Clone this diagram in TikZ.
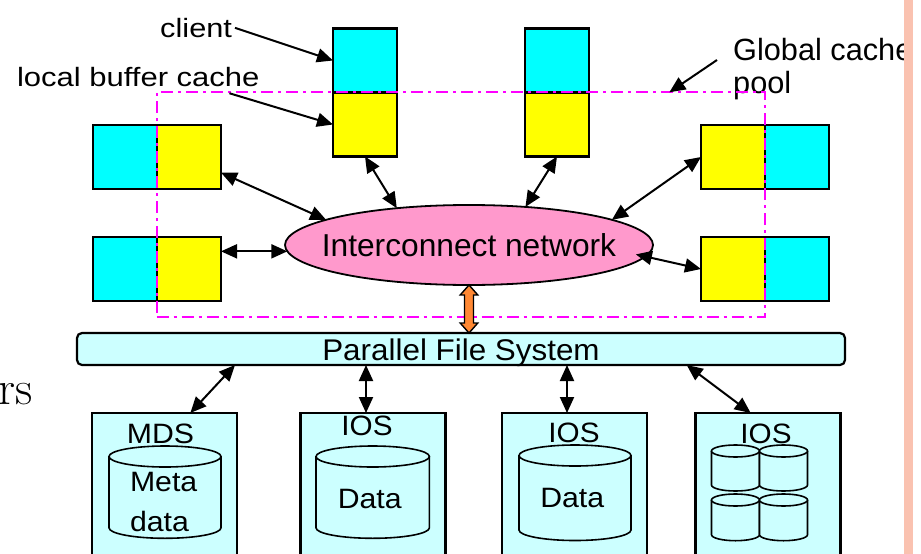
\documentclass[tikz,border=0pt]{standalone}
\usepackage{fontspec}
\usepackage{graphicx}
\newfontfamily\arial{Liberation Sans}
\usetikzlibrary{arrows.meta,shapes.geometric,calc}
\definecolor{cya}{RGB}{0,255,255}
\definecolor{yel}{RGB}{255,255,0}
\definecolor{lcy}{RGB}{204,255,255}
\definecolor{pnk}{RGB}{255,153,204}
\definecolor{org}{RGB}{255,136,51}
\definecolor{mag}{RGB}{255,0,255}
\definecolor{stripc}{RGB}{250,194,176}
\newcommand\sx[2]{\scalebox{#1}[1]{#2}}
\newcommand\dbcyl[5]{%
  \filldraw[cylst] ({#1-#4},#2) -- ({#1-#4},#3)
    .. controls ({#1-#4},{#3+0.5523*#5}) and ({#1-0.5523*#4},{#3+#5}) .. (#1,{#3+#5})
    .. controls ({#1+0.5523*#4},{#3+#5}) and ({#1+#4},{#3+0.5523*#5}) .. ({#1+#4},#3)
    -- ({#1+#4},#2);
  \filldraw[cylst] (#1,#2) ellipse [x radius=#4, y radius=#5];}
\begin{document}
\begin{tikzpicture}[x=1pt,y=-1pt,
  cbox/.style={draw=black, line width=2.2pt, inner sep=0, outer sep=0, minimum width=64pt, minimum height=64pt},
  cyb/.style={cbox, fill=cya},
  ylb/.style={cbox, fill=yel},
  srvbox/.style={draw=black, line width=2.2pt, fill=lcy, inner sep=0, outer sep=0, anchor=north, minimum width=145pt, minimum height=170pt},
  cylst/.style={draw=black, line width=1.6pt, fill=lcy},
  tip/.tip={Triangle[length=16pt,width=14pt]},
  dblarr/.style={line width=2pt, tip-tip},
  onearr/.style={line width=2pt, -tip},
  txt/.style={inner sep=0, outer sep=0, font=\arial\fontsize{28}{33}\selectfont},
  toptxt/.style={inner sep=0, outer sep=0, font=\arial\fontsize{26.5}{30}\selectfont},
]
\useasboundingbox (0,0) rectangle (921,554);
\clip (0,0) rectangle (921,554);

% left slide remnant
\node[inner sep=0, anchor=base west, font=\fontsize{48}{52}\selectfont] (rs) at (-2,404) {rs};

% client boxes
\node[cyb] (c1) at (365,60.5) {};
\node[ylb] (y1) at (365,124.5) {};
\node[cyb] (c2) at (557,60.5) {};
\node[ylb] (y2) at (557,124.5) {};
\node[cyb] (luc) at (125,157) {};
\node[ylb] (luy) at (189,157) {};
\node[cyb] (llc) at (125,269) {};
\node[ylb] (lly) at (189,269) {};
\node[ylb] (ruy) at (733,157) {};
\node[cyb] (ruc) at (797,157) {};
\node[ylb] (rly) at (733,269) {};
\node[cyb] (rlc) at (797,269) {};

% interconnect
\node[ellipse, draw=black, line width=1.8pt, fill=pnk, minimum width=368pt, minimum height=80pt, inner sep=0, outer sep=0] (net) at (469,245) {};
\node[inner sep=0, anchor=base, font=\arial\fontsize{31.7}{36}\selectfont] (nettxt) at (469,256.7) {Interconnect network};

% parallel file system
\node[draw=black, line width=2.2pt, rounded corners=5pt, fill=lcy, minimum width=768pt, minimum height=32pt, inner sep=0, outer sep=0] (pfs) at (461,349) {};
\node[inner sep=0, anchor=base, font=\arial\fontsize{29.9}{34}\selectfont] (pfstxt) at (461,360.7) {\sx{1.05}{Parallel File System}};

% server boxes
\node[srvbox] (mds) at (164.8,413) {};
\node[srvbox] (ios2) at (373,413) {};
\node[srvbox] (ios3) at (574.7,413) {};
\node[srvbox] (ios4) at (768,413) {};

\dbcyl{165}{456.5}{527.8}{56}{10.5}
\dbcyl{372.7}{456.5}{527.8}{56.7}{10.5}
\dbcyl{575}{455.5}{530}{56}{10.5}
\dbcyl{735.5}{451}{485}{24}{6}
\dbcyl{783.5}{451}{485}{24}{6}
\dbcyl{735.5}{500}{534.7}{24}{6}
\dbcyl{783.5}{500}{534.7}{24}{6}

\node[txt, anchor=base] (mdst) at (160.5,443) {\sx{1.08}{MDS}};
\node[txt, anchor=base west] (metat) at (130,491.7) {\sx{1.08}{Meta}};
\node[txt, anchor=base west] (datat) at (130,531) {\sx{1.08}{data}};
\node[txt, anchor=base] (ios2t) at (367,435) {\sx{1.06}{IOS}};
\node[txt, anchor=base] (data2t) at (369.7,508) {\sx{1.08}{Data}};
\node[txt, anchor=base] (ios3t) at (574,442.7) {\sx{1.06}{IOS}};
\node[txt, anchor=base] (data3t) at (572.2,507.7) {\sx{1.08}{Data}};
\node[txt, anchor=base] (ios4t) at (766,443) {\sx{1.06}{IOS}};

% top labels
\node[toptxt, anchor=base east] (client) at (232,37.3) {\sx{1.16}{client}};
\node[toptxt, anchor=base west] (lbc) at (17,86) {\sx{1.17}{local buffer cache}};
\node[inner sep=0, anchor=base west, font=\arial\fontsize{30.7}{34}\selectfont] (gc) at (733,60) {Global cache};
\node[inner sep=0, anchor=base west, font=\arial\fontsize{30.7}{34}\selectfont] (poolt) at (733,93) {pool};

% global cache pool boundary
\node[draw=mag, line width=2.2pt, dash pattern=on 12pt off 5pt on 3pt off 5pt, minimum width=608.3pt, minimum height=224.4pt, inner sep=0, outer sep=0] (pool) at (460.85,204.5) {};

% label arrows
\draw[onearr] ([xshift=3pt]client.east) -- (c1.west);
\draw[onearr] ($(lbc.south east)+(-30,7)$) -- (y1.west);
\draw[onearr] ($(gc.base west)+(-16,0)$) -- ($(pool.north)+(208.5,0)$);

% network arrows
\draw[dblarr] (luy.-26.6) -- (net.170.9);
\draw[dblarr] (lly.east |- net.182.6) -- (net.182.6);
\draw[dblarr] (y1.south) -- (net.153);
\draw[dblarr] (y2.south) -- (net.34.2);
\draw[dblarr] (ruy.west) -- (net.10.4);
\draw[dblarr] (rly.west) -- ($(net.357.7)+(-12,0)$);

% orange link
\coordinate (oat) at (net.south);
\coordinate (oab) at (pfs.north -| net.south);
\filldraw[draw=black, line width=1.4pt, fill=org, line join=miter]
  (oat) -- ++(8.8,10) -- ++(-4.3,0) -- ($(oab)+(4.5,-10)$) -- ++(4.3,0) -- (oab)
  -- ++(-8.8,-10) -- ++(4.3,0) -- ($(oat)+(-4.5,10)$) -- ++(-4.3,0) -- cycle;

% PFS arrows
\coordinate (a11) at ($(ios2.north)+(-7,0)$);
\coordinate (a12) at ($(ios3.north)+(-7.7,0)$);
\draw[dblarr] ($(pfs.south west)+(158,0)$) -- ($(mds.north)+(25.5,0)$);
\draw[dblarr] (pfs.south -| a11) -- (a11);
\draw[dblarr] (pfs.south -| a12) -- (a12);
\draw[dblarr] ($(pfs.south west)+(609.7,0)$) -- ($(ios4.north)+(-17.3,0)$);

% right strip
\fill[stripc] (904,0) rectangle (913,554);
\end{tikzpicture}
\end{document}
